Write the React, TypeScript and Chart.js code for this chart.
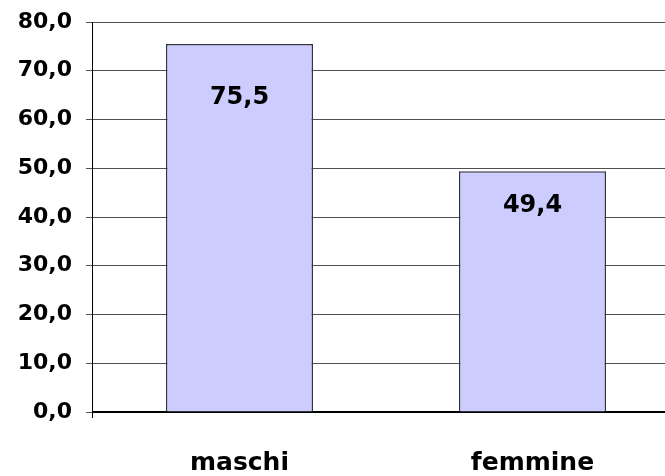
import React, { useEffect, useRef } from "react";
import { Chart, registerables } from "chart.js";

Chart.register(...registerables);

const categories: string[] = ["maschi", "femmine"];
const values: number[] = [75.5, 49.4];
const yTicks: number[] = [0, 10, 20, 30, 40, 50, 60, 70, 80];

const fmt = (v: number) => v.toFixed(1).replace(".", ",");
const FONT = "'DejaVu Sans', Verdana, sans-serif";

const valueLabels = {
  id: "valueLabels",
  afterDatasetsDraw(chart: any) {
    const ctx = chart.ctx;
    const meta = chart.getDatasetMeta(0);
    const ys = chart.scales.y;
    ctx.save();
    ctx.font = `bold 24px ${FONT}`;
    ctx.fillStyle = "#000";
    ctx.textAlign = "center";
    ctx.textBaseline = "middle";
    meta.data.forEach((el: any, i: number) => {
      const v = values[i];
      const y = ys.getPixelForValue(v * 0.855);
      ctx.fillText(fmt(v), el.x, y);
    });
    ctx.restore();
  },
};

export default function App() {
  const ref = useRef<HTMLCanvasElement | null>(null);
  useEffect(() => {
    if (!ref.current) return;
    const chart = new Chart(ref.current, {
      type: "bar",
      data: {
        labels: categories,
        datasets: [
          {
            data: values,
            backgroundColor: "#CCCCFF",
            borderColor: "#333344",
            borderWidth: 1.5,
            barPercentage: 0.502,
            categoryPercentage: 1,
          },
        ],
      },
      options: {
        animation: false,
        responsive: false,
        devicePixelRatio: 1,
        layout: { padding: { left: 3.7, top: 16, right: 1, bottom: -32 } },
        plugins: {
          legend: { display: false },
          tooltip: { enabled: false },
        },
        scales: {
          x: {
            offset: true,
            grid: {
              offset: true,
              drawOnChartArea: false,
              tickLength: 6,
              color: (c: any) => (c.index === 0 ? "#000" : "rgba(0,0,0,0)"),
            },
            border: { display: true, color: "#000", width: 2 },
            ticks: {
              padding: 30,
              color: "#000",
              maxRotation: 0,
              font: { family: FONT, size: 25, weight: "bold" },
            },
          },
          y: {
            min: 0,
            max: 80,
            afterBuildTicks: (axis: any) => {
              axis.ticks = yTicks.map((v) => ({ value: v }));
            },
            grid: { color: "#505050", lineWidth: 1, tickLength: 7 },
            border: { display: true, color: "#000", width: 1 },
            ticks: {
              padding: 14,
              color: "#000",
              font: { family: FONT, size: 22, weight: "bold", lineHeight: 0.73 },
              callback: (v: any) => fmt(Number(v)),
            },
          },
        },
      },
      plugins: [valueLabels],
    });
    return () => chart.destroy();
  }, []);
  return (
    <div
      style={{
        position: "fixed",
        left: 0,
        top: 0,
        width: 665,
        height: 476,
        overflow: "hidden",
        background: "#fff",
      }}
    >
      <canvas ref={ref} width={680} height={476} style={{ display: "block" }} />
    </div>
  );
}
